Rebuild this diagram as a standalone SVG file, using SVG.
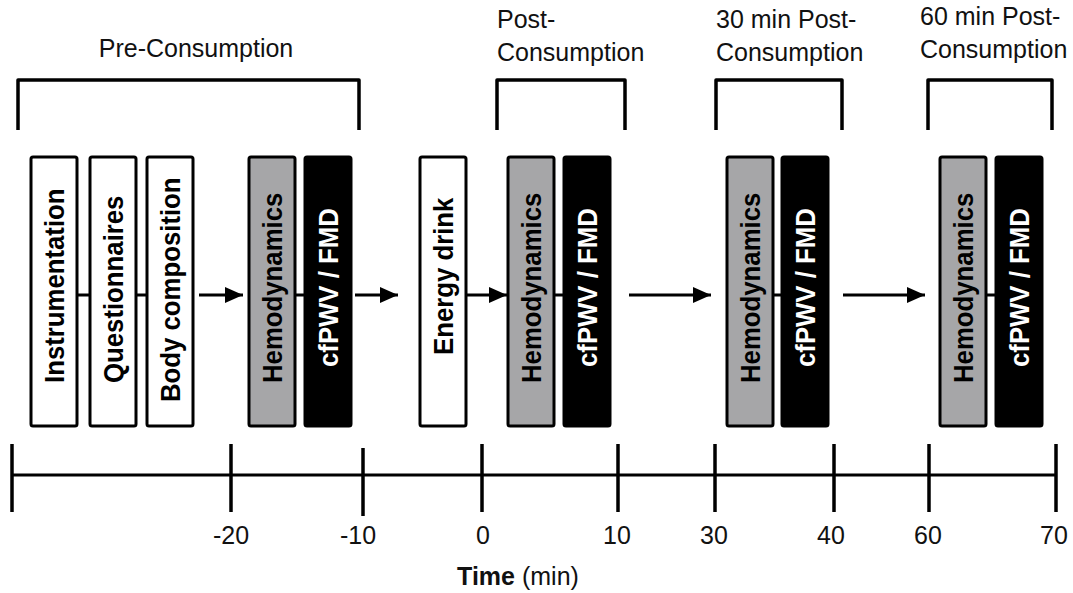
<svg xmlns="http://www.w3.org/2000/svg" width="1073" height="593" viewBox="0 0 1073 593">
<defs>
<style>
.hdr{font-family:"Liberation Sans",Arial,sans-serif;font-size:25px;fill:#111}
.lbl{font-family:"Liberation Sans",Arial,sans-serif;font-size:28px;font-weight:bold}
.tick{font-family:"Liberation Sans",Arial,sans-serif;font-size:25px;fill:#111;text-anchor:middle}
.br{fill:none;stroke:#000;stroke-width:3.5;stroke-linejoin:round}
.box{stroke:#000;stroke-width:3}
.w{fill:#fff}
.g{fill:#a6a6a8}
.k{fill:#000}
.ln{stroke:#000;stroke-width:3;fill:none}
</style>
<marker id="ah" markerWidth="18" markerHeight="16" refX="18" refY="8" orient="auto" markerUnits="userSpaceOnUse">
<path d="M0,0 L18,8 L0,16 Z" fill="#000"/>
</marker>
</defs>
<rect width="1073" height="593" fill="#fff"/>

<g id="headers">
<text class="hdr" x="196" y="57" text-anchor="middle">Pre-Consumption</text>
<path class="br" d="M18,130 V80 H359 V130"/>
<text class="hdr" x="497" y="28">Post-</text>
<text class="hdr" x="497" y="61">Consumption</text>
<path class="br" d="M497,130 V80 H625 V130"/>
<text class="hdr" x="716" y="28">30 min Post-</text>
<text class="hdr" x="716" y="61">Consumption</text>
<path class="br" d="M716,130 V80 H842 V130"/>
<text class="hdr" x="920" y="25">60 min Post-</text>
<text class="hdr" x="920" y="58">Consumption</text>
<path class="br" d="M928,130 V80 H1052 V130"/>
</g>

<g id="connectors">
<line class="ln" x1="77" y1="295" x2="89" y2="295"/>
<line class="ln" x1="136" y1="295" x2="147" y2="295"/>
<line class="ln" x1="295" y1="295" x2="304" y2="295"/>
<line class="ln" x1="554" y1="295" x2="563" y2="295"/>
<line class="ln" x1="773" y1="295" x2="781" y2="295"/>
<line class="ln" x1="987" y1="295" x2="995" y2="295"/>
<line class="ln" x1="199" y1="295" x2="243" y2="295" marker-end="url(#ah)"/>
<line class="ln" x1="355" y1="295" x2="398" y2="295" marker-end="url(#ah)"/>
<line class="ln" x1="467" y1="295" x2="507" y2="295" marker-end="url(#ah)"/>
<line class="ln" x1="629" y1="295" x2="711" y2="295" marker-end="url(#ah)"/>
<line class="ln" x1="843" y1="295" x2="925" y2="295" marker-end="url(#ah)"/>
</g>

<g id="instrumentation">
<rect class="box w" x="31" y="157" width="46" height="269" rx="2"/>
<text class="lbl" transform="translate(63.5,383) rotate(-90) scale(0.92,1)">Instrumentation</text>
</g>
<g id="questionnaires">
<rect class="box w" x="90" y="157" width="46" height="269" rx="2"/>
<text class="lbl" transform="translate(122.5,383) rotate(-90) scale(0.92,1)">Questionnaires</text>
</g>
<g id="body-composition">
<rect class="box w" x="147" y="157" width="46" height="269" rx="2"/>
<text class="lbl" transform="translate(179.5,402) rotate(-90) scale(0.92,1)">Body composition</text>
</g>
<g id="hemo-1">
<rect class="box g" x="249" y="157" width="46" height="269" rx="2"/>
<text class="lbl" transform="translate(281.5,383) rotate(-90) scale(0.92,1)">Hemodynamics</text>
</g>
<g id="cfpwv-1">
<rect class="box k" x="305" y="157" width="46" height="269" rx="2"/>
<text class="lbl" fill="#fff" transform="translate(337.5,367) rotate(-90) scale(0.92,1)">cfPWV / FMD</text>
</g>
<g id="energy-drink">
<rect class="box w" x="420" y="157" width="46" height="269" rx="2"/>
<text class="lbl" transform="translate(452.5,355) rotate(-90) scale(0.92,1)">Energy drink</text>
</g>
<g id="hemo-2">
<rect class="box g" x="508" y="157" width="46" height="269" rx="2"/>
<text class="lbl" transform="translate(540.5,383) rotate(-90) scale(0.92,1)">Hemodynamics</text>
</g>
<g id="cfpwv-2">
<rect class="box k" x="564" y="157" width="46" height="269" rx="2"/>
<text class="lbl" fill="#fff" transform="translate(596.5,367) rotate(-90) scale(0.92,1)">cfPWV / FMD</text>
</g>
<g id="hemo-3">
<rect class="box g" x="727" y="157" width="46" height="269" rx="2"/>
<text class="lbl" transform="translate(759.5,383) rotate(-90) scale(0.92,1)">Hemodynamics</text>
</g>
<g id="cfpwv-3">
<rect class="box k" x="782" y="157" width="46" height="269" rx="2"/>
<text class="lbl" fill="#fff" transform="translate(814.5,367) rotate(-90) scale(0.92,1)">cfPWV / FMD</text>
</g>
<g id="hemo-4">
<rect class="box g" x="940" y="157" width="46" height="269" rx="2"/>
<text class="lbl" transform="translate(972.5,383) rotate(-90) scale(0.92,1)">Hemodynamics</text>
</g>
<g id="cfpwv-4">
<rect class="box k" x="996" y="157" width="46" height="269" rx="2"/>
<text class="lbl" fill="#fff" transform="translate(1028.5,367) rotate(-90) scale(0.92,1)">cfPWV / FMD</text>
</g>

<g id="axis">
<line class="ln" x1="12" y1="475" x2="1056" y2="475" stroke-width="3.5"/>
<g stroke="#000" stroke-width="3.5">
<line x1="12" y1="444" x2="12" y2="512"/>
<line x1="231" y1="444" x2="231" y2="512"/>
<line x1="363" y1="448" x2="363" y2="516"/>
<line x1="482" y1="444" x2="482" y2="512"/>
<line x1="618" y1="444" x2="618" y2="512"/>
<line x1="715" y1="444" x2="715" y2="512"/>
<line x1="834" y1="444" x2="834" y2="512"/>
<line x1="929" y1="444" x2="929" y2="512"/>
<line x1="1056" y1="444" x2="1056" y2="512"/>
</g>
<text class="tick" x="231" y="544">-20</text>
<text class="tick" x="358" y="544">-10</text>
<text class="tick" x="483" y="544">0</text>
<text class="tick" x="617" y="544">10</text>
<text class="tick" x="714" y="544">30</text>
<text class="tick" x="831" y="544">40</text>
<text class="tick" x="928" y="544">60</text>
<text class="tick" x="1054" y="544">70</text>
<text class="tick" x="518" y="585"><tspan font-weight="bold">Time</tspan> (min)</text>
</g>
</svg>
